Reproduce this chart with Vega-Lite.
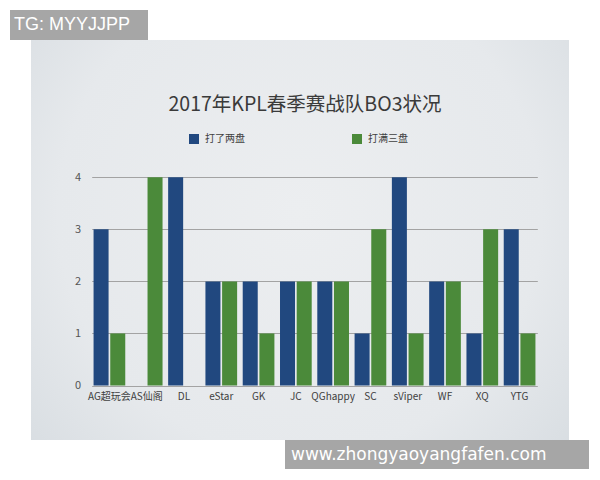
{
  "$schema": "https://vega.github.io/schema/vega-lite/v6.json",
  "description": "2017 KPL spring season team BO3 results",
  "width": 538,
  "height": 400,
  "autosize": {"type": "none"},
  "padding": {"left": 31, "top": 40, "right": 31, "bottom": 40},
  "background": "white",
  "view": {
    "stroke": null,
    "fill": {
      "gradient": "radial",
      "x1": 0.5, "y1": 0.45, "r1": 0,
      "x2": 0.5, "y2": 0.45, "r2": 0.75,
      "stops": [
        {"offset": 0, "color": "#eceef0"},
        {"offset": 0.6, "color": "#e6e9ec"},
        {"offset": 1, "color": "#d3d9de"}
      ]
    }
  },
  "config": {"font": "Noto Sans CJK SC"},
  "title": {
    "text": "2017年KPL春季赛战队BO3状况",
    "font": "Noto Sans CJK SC",
    "fontSize": 19.5,
    "fontWeight": "normal",
    "color": "#3a3a3a",
    "anchor": "middle",
    "offset": -105,
    "dx": 5
  },
  "layer": [
    {
      "data": {
        "values": [
          {"team": "AG超玩会", "type": "打了两盘", "count": 3},
          {"team": "AG超玩会", "type": "打满三盘", "count": 1},
          {"team": "AS仙阁", "type": "打了两盘", "count": 0},
          {"team": "AS仙阁", "type": "打满三盘", "count": 4},
          {"team": "DL", "type": "打了两盘", "count": 4},
          {"team": "DL", "type": "打满三盘", "count": 0},
          {"team": "eStar", "type": "打了两盘", "count": 2},
          {"team": "eStar", "type": "打满三盘", "count": 2},
          {"team": "GK", "type": "打了两盘", "count": 2},
          {"team": "GK", "type": "打满三盘", "count": 1},
          {"team": "JC", "type": "打了两盘", "count": 2},
          {"team": "JC", "type": "打满三盘", "count": 2},
          {"team": "QGhappy", "type": "打了两盘", "count": 2},
          {"team": "QGhappy", "type": "打满三盘", "count": 2},
          {"team": "SC", "type": "打了两盘", "count": 1},
          {"team": "SC", "type": "打满三盘", "count": 3},
          {"team": "sViper", "type": "打了两盘", "count": 4},
          {"team": "sViper", "type": "打满三盘", "count": 1},
          {"team": "WF", "type": "打了两盘", "count": 2},
          {"team": "WF", "type": "打满三盘", "count": 2},
          {"team": "XQ", "type": "打了两盘", "count": 1},
          {"team": "XQ", "type": "打满三盘", "count": 3},
          {"team": "YTG", "type": "打了两盘", "count": 3},
          {"team": "YTG", "type": "打满三盘", "count": 1}
        ]
      },
      "mark": {"type": "bar"},
      "encoding": {
        "x": {
          "field": "team",
          "type": "nominal",
          "sort": null,
          "scale": {
            "domain": ["AG超玩会", "AS仙阁", "DL", "eStar", "GK", "JC", "QGhappy", "SC", "sViper", "WF", "XQ", "YTG"],
            "range": [60.7, 506.3],
            "paddingInner": 0.15,
            "paddingOuter": 0.05
          },
          "axis": {
            "title": null,
            "orient": "bottom",
            "offset": -54.5,
            "labelPadding": 6,
            "labelAngle": 0,
            "domain": false,
            "ticks": false,
            "labelFontSize": 10,
            "labelColor": "#404040"
          }
        },
        "xOffset": {
          "field": "type",
          "type": "nominal",
          "scale": {"domain": ["打了两盘", "打满三盘"], "paddingInner": 0.1, "paddingOuter": 0}
        },
        "y": {
          "field": "count",
          "type": "quantitative",
          "scale": {"domain": [0, 4], "range": [345.5, 137.3], "nice": false},
          "axis": {
            "title": null,
            "values": [0, 1, 2, 3, 4],
            "offset": -51.5,
            "labelPadding": 2,
            "domain": false,
            "ticks": false,
            "gridColor": "#a3a3a3",
            "gridWidth": 1,
            "labelFontSize": 11,
            "labelColor": "#555555"
          }
        },
        "color": {
          "field": "type",
          "type": "nominal",
          "scale": {"domain": ["打了两盘", "打满三盘"], "range": ["#21487f", "#4b8a3a"]},
          "legend": {
            "title": null,
            "orient": "none",
            "legendX": 158,
            "legendY": 94,
            "direction": "horizontal",
            "padding": 0,
            "symbolType": "square",
            "symbolSize": 100,
            "symbolStrokeWidth": 0,
            "labelOffset": 6,
            "labelFontSize": 10,
            "labelColor": "#404040",
            "columnPadding": 107
          }
        }
      }
    },
    {
      "data": {
        "values": [{"tg": "TG: MYYJJPP", "site": "www.zhongyaoyangfafen.com"}]
      },
      "mark": {"type": "point", "opacity": 0},
      "encoding": {
        "shape": {
          "field": "tg",
          "type": "nominal",
          "legend": {
            "title": " ",
            "titleOrient": "right",
            "titlePadding": 12,
            "titleFontSize": 10,
            "orient": "none",
            "legendX": -21,
            "legendY": -30,
            "fillColor": "#a6a6a6",
            "padding": 6,
            "symbolSize": 0,
            "symbolOpacity": 0,
            "symbolStrokeWidth": 0,
            "labelOffset": -20,
            "labelLimit": 400,
            "labelFont": "Liberation Sans",
            "labelFontSize": 18,
            "labelColor": "white"
          }
        },
        "strokeDash": {
          "field": "site",
          "type": "nominal",
          "legend": {
            "title": " ",
            "titleOrient": "right",
            "titlePadding": 37,
            "titleFontSize": 10,
            "orient": "none",
            "legendX": 254,
            "legendY": 400,
            "fillColor": "#a6a6a6",
            "padding": 6,
            "symbolSize": 0,
            "symbolOpacity": 0,
            "symbolStrokeWidth": 0,
            "labelOffset": -17,
            "labelLimit": 400,
            "labelFont": "DejaVu Sans",
            "labelFontSize": 17,
            "labelColor": "white"
          }
        }
      }
    }
  ]
}
